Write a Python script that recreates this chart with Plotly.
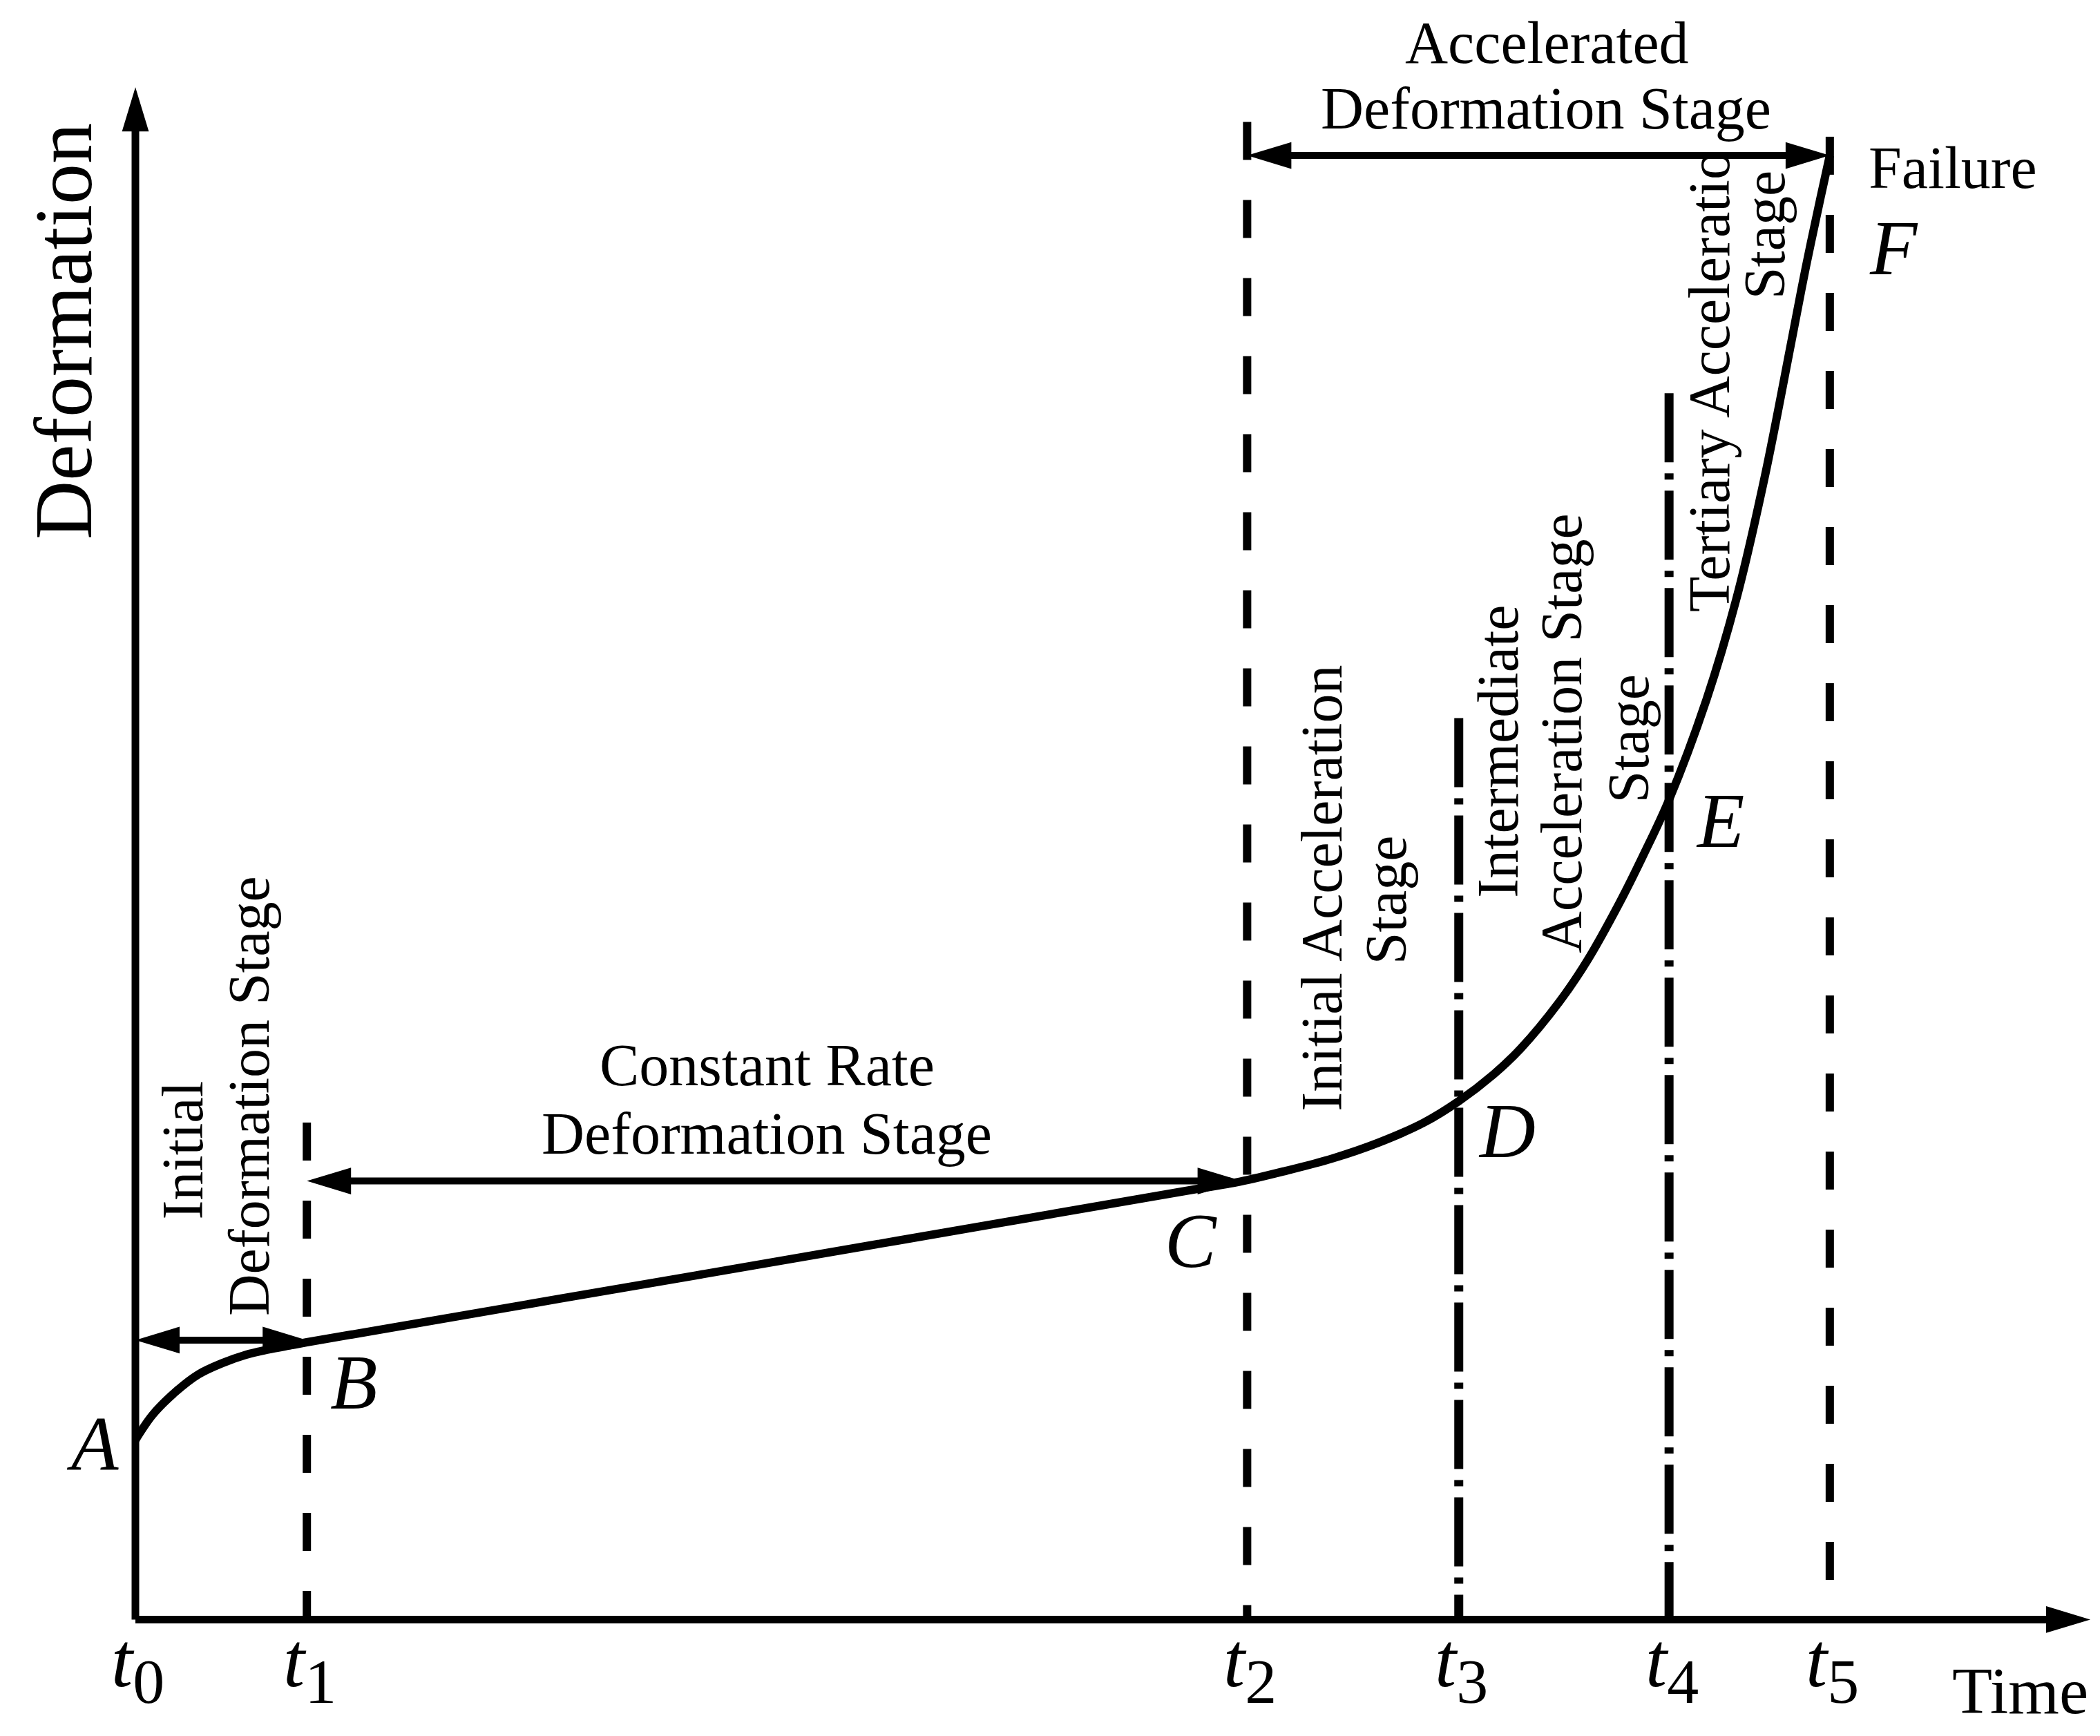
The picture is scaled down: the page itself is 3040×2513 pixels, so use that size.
import plotly.graph_objects as go

SERIF = "Liberation Serif"

# stage boundary times t0..t5 (arbitrary time units)
t_values = [0.0, 1.28, 8.30, 9.88, 11.45, 12.65]
t_subscripts = ["0", "1", "2", "3", "4", "5"]

# deformation-time curve A -> B -> C -> D -> E -> F
curve_time = [0.00, 0.13, 0.30, 0.47, 0.65, 0.82, 0.99, 1.16, 1.28, 4.19, 7.90, 8.25,
              8.59, 8.93, 9.28, 9.62, 9.88, 10.14, 10.34, 10.63, 10.84, 11.08, 11.25,
              11.45, 11.73, 11.95, 12.16, 12.37, 12.47, 12.58, 12.65]
curve_deform = [1.34, 1.53, 1.70, 1.83, 1.915, 1.975, 2.015, 2.047, 2.07, 2.57, 3.21, 3.27,
                3.35, 3.44, 3.56, 3.71, 3.87, 4.07, 4.26, 4.61, 4.92, 5.35, 5.69,
                6.12, 6.87, 7.61, 8.51, 9.575, 10.09, 10.61, 10.93]

# upper end of the vertical boundary line at t1..t5
boundary_top = [3.71, 11.18, 6.73, 9.155, 11.07]
boundary_kind = ["dash", "dash", "dashdot", "dashdot", "dash"]

# double-headed stage arrows: level, start, end
arrow_level = [2.086, 3.274, 10.93]
arrow_start = [0.0, 1.28, 8.30]
arrow_end = [1.28, 8.26, 12.65]

# axis arrow ends
x_axis_end = 14.595
y_axis_end = 11.44

HEAD_LEN = 0.33
HEAD_HALF = 0.10

fig = go.Figure()

# axes
fig.add_trace(go.Scatter(x=[0, 0], y=[0, y_axis_end - HEAD_LEN * 0.8], mode="lines",
                         line=dict(color="black", width=11), hoverinfo="skip"))
fig.add_trace(go.Scatter(x=[0, x_axis_end - HEAD_LEN * 0.8], y=[0, 0], mode="lines",
                         line=dict(color="black", width=11), hoverinfo="skip"))

# stage boundaries
dash_patterns = {"dash": "55px,58px", "dashdot": "100px,16px,9px,16px"}
widths = {"dash": 12, "dashdot": 13}
for t, top, kind in zip(t_values[1:], boundary_top, boundary_kind):
    fig.add_trace(go.Scatter(x=[t, t], y=[top, 0], mode="lines",
                             line=dict(color="black", width=widths[kind], dash=dash_patterns[kind]),
                             hoverinfo="skip"))

# stage arrows (shafts)
for lvl, x0, x1 in zip(arrow_level, arrow_start, arrow_end):
    fig.add_trace(go.Scatter(x=[x0 + HEAD_LEN * 0.8, x1 - HEAD_LEN * 0.8], y=[lvl, lvl], mode="lines",
                             line=dict(color="black", width=10), hoverinfo="skip"))

# curve
fig.add_trace(go.Scatter(x=curve_time, y=curve_deform, mode="lines",
                         line=dict(color="black", width=12, shape="spline", smoothing=1.0),
                         hoverinfo="skip"))


def head(xt, yt, direction):
    # filled triangular arrow head with its tip at (xt, yt)
    if direction == "right":
        p = f"M{xt},{yt} L{xt - HEAD_LEN},{yt - HEAD_HALF} L{xt - HEAD_LEN},{yt + HEAD_HALF} Z"
    elif direction == "left":
        p = f"M{xt},{yt} L{xt + HEAD_LEN},{yt - HEAD_HALF} L{xt + HEAD_LEN},{yt + HEAD_HALF} Z"
    else:
        p = f"M{xt},{yt} L{xt - HEAD_HALF},{yt - HEAD_LEN} L{xt + HEAD_HALF},{yt - HEAD_LEN} Z"
    fig.add_shape(type="path", path=p, xref="x", yref="y", fillcolor="black",
                  line=dict(width=0), layer="above")


head(0, y_axis_end, "up")
head(x_axis_end, 0, "right")
for lvl, x0, x1 in zip(arrow_level, arrow_start, arrow_end):
    head(x0, lvl, "left")
    head(x1, lvl, "right")


def label(text, x, y, size, angle=0):
    fig.add_annotation(x=x, y=y, xref="x", yref="y", text=text, showarrow=False,
                       textangle=angle, xanchor="center", yanchor="middle",
                       font=dict(family=SERIF, size=size, color="black"))


# time labels t0..t5 under the axis
for t, sub in zip(t_values, t_subscripts):
    label(f"<i>t</i><sub><span style='font-size:92px'>{sub}</span></sub>", t + 0.02, -0.352, 112)

# point letters
for name, x, y in zip(["A", "B", "C", "D", "E", "F"],
                      [-0.32, 1.63, 7.88, 10.24, 11.83, 13.13],
                      [1.31, 1.77, 2.83, 3.65, 5.965, 10.24]):
    label(f"<i>{name}</i>", x, y, 112)

# axis titles
label("Deformation", -0.537, 9.62, 118, -90)
label("Time", 14.07, -0.536, 95)

# horizontal stage labels
label("Accelerated", 10.54, 11.77, 86)
label("Deformation Stage", 10.53, 11.28, 86)
label("Constant Rate", 4.715, 4.14, 86)
label("Deformation Stage", 4.715, 3.63, 86)
label("Failure", 13.57, 10.835, 86)

# rotated stage labels
label("Initial", 0.355, 3.505, 84, -90)
label("Deformation Stage", 0.845, 3.91, 84, -90)
label("Initial Acceleration", 8.86, 5.46, 84, -90)
label("Stage", 9.335, 5.37, 84, -90)
label("Intermediate", 10.175, 6.48, 84, -90)
label("Acceleration Stage", 10.65, 6.615, 84, -90)
label("Stage", 11.15, 6.58, 84, -90)
label("Tertiary Acceleratio", 11.75, 9.245, 84, -90)
label("Stage", 12.165, 10.34, 84, -90)

fig.update_layout(
    width=3040, height=2513,
    margin=dict(l=0, r=0, t=0, b=0),
    paper_bgcolor="white", plot_bgcolor="white",
    showlegend=False,
    xaxis=dict(range=[-0.9696, 14.7086], visible=False, fixedrange=True),
    yaxis=dict(range=[-0.9108, 12.0495], visible=False, fixedrange=True),
)

fig.write_html("out.html")
